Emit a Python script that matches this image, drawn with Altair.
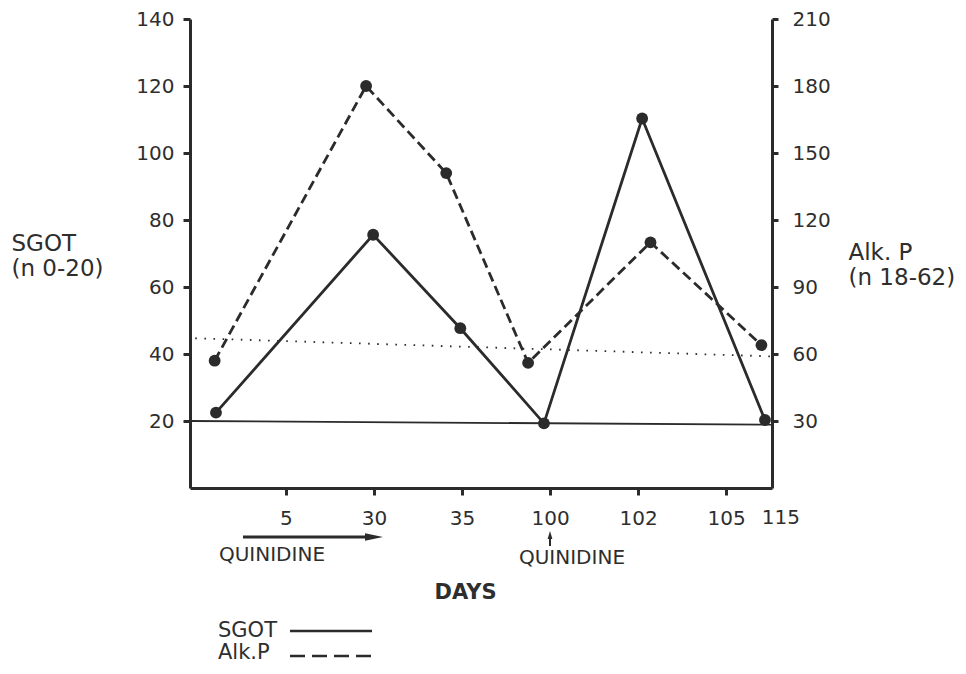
import altair as alt
import pandas as pd

# x positions are slot positions along the hand-drawn day axis (tick k at slot k)
day_ticks = [1, 2, 3, 4, 5, 6]
day_labels = ["5", "30", "35", "100", "102", "105"]
last_day_x = [6.62]
last_day_label = ["115"]

sgot_x = [0.205, 1.99, 2.98, 3.93, 5.045, 6.44]
sgot_y = [22.5, 75.6, 47.7, 19.3, 110.3, 20.3]

alk_x = [0.19, 1.91, 2.82, 3.75, 5.14, 6.40]
alk_y = [57, 180, 141, 56, 110, 64]

ref_x = [-0.09, 6.52]
sgot_limit = [20, 18.9]
dot_x = [-0.03, 6.50]
dot_y = [44.7, 39.3]

left_ticks = [20, 40, 60, 80, 100, 120, 140]
right_ticks = [30, 60, 90, 120, 150, 180, 210]

INK = "#2b2b2b"
TXT = "#2e2e2e"
FONT = "DejaVu Sans"
XDOM = [-0.09, 6.52]

sgot_df = pd.DataFrame({"x": sgot_x, "y": sgot_y})
alk_df = pd.DataFrame({"x": alk_x, "y": alk_y})
lim_df = pd.DataFrame({"x": ref_x, "y": sgot_limit})
dot_df = pd.DataFrame({"x": dot_x, "y": dot_y})
last_df = pd.DataFrame({"x": last_day_x, "t": last_day_label})
one = pd.DataFrame({"a": [0]})

expr = "''"
for t, l in reversed(list(zip(day_ticks, day_labels))):
    expr = f"datum.value == {t} ? '{l}' : ({expr})"

xscale = alt.Scale(domain=XDOM, nice=False, zero=False)
x_axis = alt.Axis(
    values=day_ticks,
    labelExpr=expr,
    title="DAYS",
    titleX=275, titleY=93, titleBaseline="top", titleAlign="center",
    titleFontWeight="bold", titleFontSize=21,
    labelPadding=13, labelFontSize=20,
)

lscale = alt.Scale(domain=[0, 140], nice=False, zero=True)
rscale = alt.Scale(domain=[0, 210], nice=False, zero=True)

left_axis = alt.Axis(
    values=left_ticks, orient="left",
    title=["SGOT", "(n 0-20)"], titleAngle=0, titleAlign="left", titleBaseline="top",
    titleX=-179, titleY=213, titleLineHeight=25, labelPadding=9,
)
right_axis = alt.Axis(
    values=right_ticks, orient="right",
    title=["Alk. P", "(n 18-62)"], titleAngle=0, titleAlign="left", titleBaseline="top",
    titleX=76, titleY=222, titleLineHeight=25, labelPadding=14, tickSize=6,
)

sgot_line = alt.Chart(sgot_df).mark_line(color=INK, strokeWidth=2.8).encode(
    x=alt.X("x:Q", scale=xscale, axis=x_axis),
    y=alt.Y("y:Q", scale=lscale, axis=left_axis),
)
sgot_pts = alt.Chart(sgot_df).mark_circle(color=INK, size=140, opacity=1).encode(
    x=alt.X("x:Q", scale=xscale),
    y=alt.Y("y:Q", scale=lscale),
)
lim_line = alt.Chart(lim_df).mark_line(color=INK, strokeWidth=1.8).encode(
    x=alt.X("x:Q", scale=xscale),
    y=alt.Y("y:Q", scale=lscale),
)
dot_line = alt.Chart(dot_df).mark_line(color=INK, strokeWidth=1.8, strokeDash=[1.6, 7.5]).encode(
    x=alt.X("x:Q", scale=xscale),
    y=alt.Y("y:Q", scale=lscale),
)
last_lbl = alt.Chart(last_df).mark_text(
    font=FONT, fontSize=20, color=TXT, baseline="top", align="center"
).encode(
    x=alt.X("x:Q", scale=xscale),
    y=alt.value(489),
    text="t:N",
)
sgot_group = alt.layer(sgot_line, sgot_pts, lim_line, dot_line, last_lbl)

alk_line = alt.Chart(alk_df).mark_line(color=INK, strokeWidth=2.8, strokeDash=[10, 5]).encode(
    x=alt.X("x:Q", scale=xscale),
    y=alt.Y("y:Q", scale=rscale, axis=right_axis),
)
alk_pts = alt.Chart(alk_df).mark_circle(color=INK, size=140, opacity=1).encode(
    x=alt.X("x:Q", scale=xscale),
    y=alt.Y("y:Q", scale=rscale),
)
alk_group = alt.layer(alk_line, alk_pts)

# annotations (pixel positions relative to plot origin)
def txt(s, x, y, size=20, align="center", weight="normal"):
    return alt.Chart(one).mark_text(
        text=s, font=FONT, fontSize=size, color=TXT, align=align, baseline="middle",
        fontWeight=weight,
    ).encode(x=alt.value(x), y=alt.value(y))

def hrule(x1, x2, y, dash=None, w=2.6):
    kw = dict(color=INK, strokeWidth=w)
    if dash:
        kw["strokeDash"] = dash
    return alt.Chart(one).mark_rule(**kw).encode(x=alt.value(x1), x2=alt.value(x2), y=alt.value(y))

arrow_shaft = hrule(53, 178, 518, w=2.8)
arrow_head = alt.Chart(one).mark_point(
    shape="M-1,-0.42L1,0L-1,0.42Z", filled=True, color=INK, opacity=1, size=324
).encode(x=alt.value(184), y=alt.value(518))
up_shaft = alt.Chart(one).mark_rule(color=INK, strokeWidth=2).encode(
    x=alt.value(360), y=alt.value(518), y2=alt.value(527)
)
up_head = alt.Chart(one).mark_point(
    shape="M-0.6,1L0,-1L0.6,1Z", filled=True, color=INK, opacity=1, size=64
).encode(x=alt.value(360), y=alt.value(516))

q1 = txt("QUINIDINE", 82, 536, 20)
q2 = txt("QUINIDINE", 382, 539, 20)

leg1 = txt("SGOT", 28, 612, 21, align="left")
leg2 = txt("Alk.P", 28, 634, 21, align="left")
leg1_line = hrule(100, 182, 612, w=2.4)
leg2_line = hrule(100, 181, 637, dash=[15, 7], w=2.4)

chart = alt.layer(
    sgot_group, alk_group,
    arrow_shaft, arrow_head, up_shaft, up_head, q1, q2,
    leg1, leg2, leg1_line, leg2_line,
).resolve_scale(y="independent").properties(
    width=582, height=469,
    autosize=alt.AutoSizeParams(type="none"),
    padding={"left": 182, "top": 11, "right": 186, "bottom": 178},
    background="white",
).configure_view(stroke=None).configure_axis(
    grid=False,
    labelFont=FONT, labelFontSize=20, labelColor=TXT,
    titleFont=FONT, titleFontSize=23, titleFontWeight="normal", titleColor=TXT,
    domainColor=INK, domainWidth=3, tickColor=INK, tickWidth=3, tickSize=7,
)

chart.save("out.html", embed_options={"renderer": "svg", "actions": False})
